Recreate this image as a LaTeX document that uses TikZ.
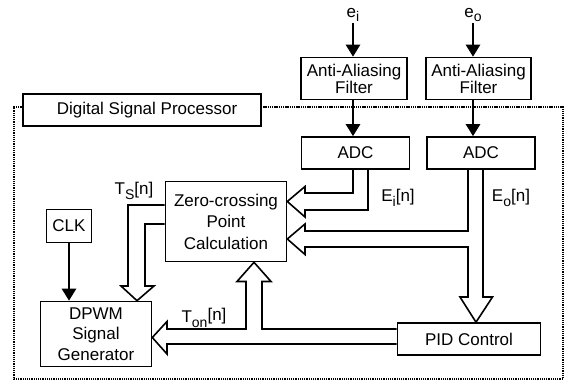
\documentclass[tikz,border=0pt]{standalone}
\usepackage{fontspec}
\setmainfont{Liberation Sans}
\usetikzlibrary{arrows.meta}
\newcommand\mysub[1]{\raisebox{-0.5ex}{\fontsize{14}{14}\selectfont #1}}
\begin{document}
\begin{tikzpicture}[x=1pt,y=-1pt,
  box/.style={draw,line width=1.6pt,fill=white,inner sep=0pt,align=center,
    font=\fontsize{17}{20}\selectfont},
  lbl/.style={inner sep=1pt,font=\fontsize{17}{20}\selectfont},
  arr/.style={line width=2.6pt,-{Triangle[width=14pt,length=12pt]}},
  hollow/.style={draw,line width=1.6pt,line join=miter},
  frame/.style={line width=2.6pt,dash pattern=on 1.3pt off 0.9pt}]
\useasboundingbox (0,0) rectangle (565,385);
% nodes
\node[lbl] (ei) at (353,15) {e\mysub{i}};
\node[lbl] (eo) at (473,15) {e\mysub{o}};
\node[box,minimum width=106pt,minimum height=42pt,font=\fontsize{17}{17}\selectfont] (fi) at (354,78.5) {Anti-Aliasing\\Filter};
\node[box,minimum width=105pt,minimum height=42pt,font=\fontsize{17}{17}\selectfont] (fo) at (478.5,78.5) {Anti-Aliasing\\Filter};
% frame
\draw[frame] (261,107) -- (563,107) -- (563,379) -- (14,379) -- (14,107) -- (23,107);
\node[box,minimum width=238pt,minimum height=32pt] (dsp) at (142,110) {\hspace{10pt}Digital Signal Processor};
\node[box,minimum width=108pt,minimum height=32pt] (adci) at (355.5,153) {ADC};
\node[box,minimum width=108pt,minimum height=32pt] (adco) at (481,153) {ADC};
\node[box,minimum width=121pt,minimum height=80pt,font=\fontsize{17}{21.5}\selectfont] (zc) at (226,221.5) {Zero-crossing\\Point\\Calculation};
\node[box,minimum width=45pt,minimum height=33pt] (clk) at (69,226) {CLK};
\node[box,minimum width=111pt,minimum height=65pt,font=\fontsize{17}{20.5}\selectfont] (dpwm) at (96,334) {DPWM\\Signal\\Generator};
\node[box,minimum width=143pt,minimum height=32pt] (pid) at (469,339) {PID Control};
% thin arrows
\draw[arr] (ei.south) -- (ei.south |- fi.north);
\draw[arr] (eo.south) -- (eo.south |- fo.north);
\draw[arr] (fi.south -| ei) -- (adci.north -| ei);
\draw[arr] (fo.south -| eo) -- (adco.north -| eo);
\draw[arr] (clk.south) -- (dpwm.north -| clk.south);
% hollow arrows
\draw[hollow] (adci.south -| 353,0) |- (305,193) -- (305,186.5) -- (zc.east |- 0,201.5) -- (305,217) -- (305,210) -| (adci.south -| 368,0);
\draw[hollow] (adco.south -| 468,0) |- (305,231) -- (305,224) -- (zc.east |- 0,239) -- (305,254.5) -- (305,247) -| (468,297) -- (460,297) -- (pid.north -| 476,0) -- (492.5,297) -- (483,297) -- (adco.south -| 483,0);
\draw[hollow] (pid.west |- 0,329) -| (262,281.5) -- (271,281.5) -- (zc.south -| 254,0) -- (237,281.5) -- (246,281.5) |- (167,329) -- (167,321.5) -- (dpwm.east |- 0,337.5) -- (167,354) -- (167,344) -- (pid.west |- 0,344);
\draw[hollow] (zc.west |- 0,205) -| (128,286) -- (121,286) -- (dpwm.north -| 137,0) -- (154,286) -- (145,286) |- (zc.west |- 0,224);
% labels
\node[lbl] (ts) at (134,191) {T\mysub{S}[n]};
\node[lbl] (eil) at (398,198) {E\mysub{i}[n]};
\node[lbl] (eol) at (511,198) {E\mysub{o}[n]};
\node[lbl] (ton) at (204,318) {T\mysub{on}\raisebox{0.2ex}{[n]}};
\end{tikzpicture}
\end{document}
